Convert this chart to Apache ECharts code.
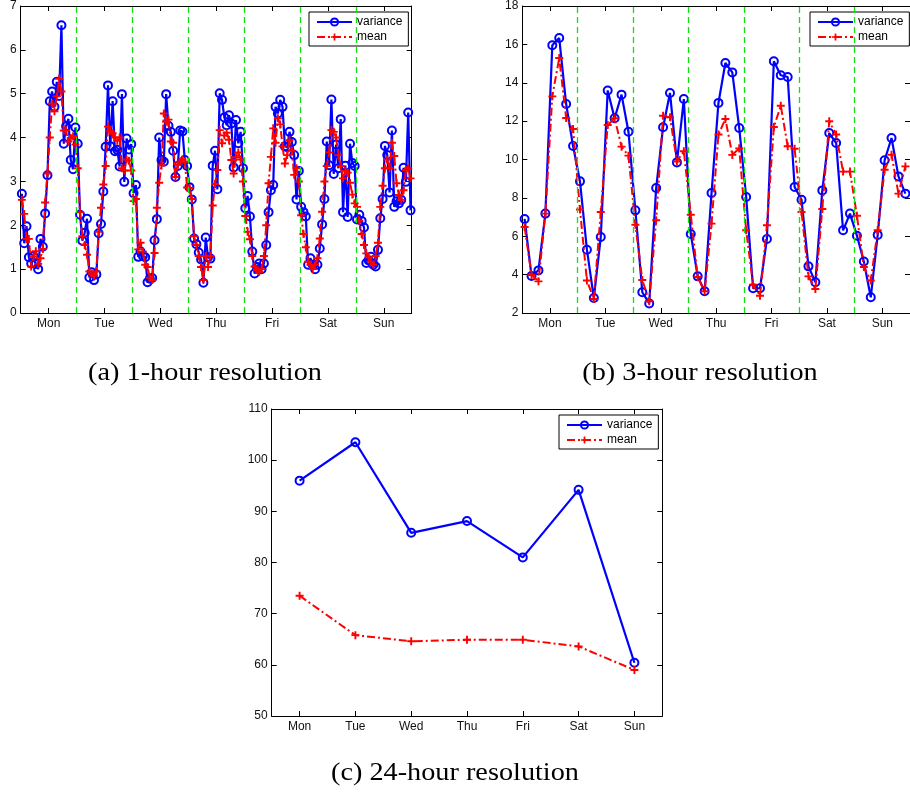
<!DOCTYPE html>
<html>
<head>
<meta charset="utf-8">
<script src="https://cdn.jsdelivr.net/npm/echarts@6/dist/echarts.min.js"></script>
<style>
  html, body { margin: 0; padding: 0; background: #fff; }
  #chart { width: 910px; height: 793px; }
</style>
</head>
<body>
<div id="chart"></div>
<script>
// Weekly traffic statistics at three time resolutions.
const days = ['Mon', 'Tue', 'Wed', 'Thu', 'Fri', 'Sat', 'Sun'];

// (a) one value per hour, Monday 00:00 to Sunday 23:00
const hourlyVariance = [
  2.72, 1.59, 1.98, 1.27, 1.13, 1.30, 1.12, 1.00, 1.69, 1.51, 2.27, 3.14, 4.83, 5.05, 4.70, 5.27, 4.95, 6.56, 3.86, 4.26, 4.43, 3.49, 3.28, 4.23,
  3.86, 2.24, 1.65, 1.83, 2.15, 0.81, 0.93, 0.75, 0.88, 1.82, 2.03, 2.77, 3.79, 5.19, 3.80, 4.83, 3.69, 3.72, 3.34, 4.99, 2.99, 3.98, 3.73, 3.85,
  2.73, 2.92, 1.28, 1.40, 1.30, 1.27, 0.70, 0.78, 0.80, 1.66, 2.14, 4.00, 3.49, 3.45, 4.99, 4.27, 4.13, 3.70, 3.10, 3.35, 4.16, 4.14, 3.49, 3.35,
  2.87, 2.59, 1.70, 1.57, 1.38, 1.22, 0.69, 1.72, 1.27, 1.24, 3.36, 3.70, 2.82, 5.01, 4.86, 4.46, 4.28, 4.51, 4.32, 3.32, 4.40, 3.87, 4.13, 3.30,
  2.39, 2.67, 2.20, 1.40, 0.90, 1.05, 1.13, 1.00, 1.13, 1.55, 2.30, 2.80, 2.92, 4.70, 4.55, 4.86, 4.70, 3.80, 3.78, 4.13, 3.90, 3.60, 2.59, 3.24,
  2.42, 2.30, 2.20, 1.10, 1.25, 1.10, 1.00, 1.10, 1.47, 2.02, 2.60, 3.91, 3.37, 4.87, 3.17, 3.84, 3.30, 4.42, 2.30, 3.36, 2.19, 3.86, 3.42, 3.35,
  2.13, 2.24, 2.10, 1.95, 1.14, 1.20, 1.28, 1.10, 1.06, 1.44, 2.16, 2.60, 3.81, 3.60, 2.75, 4.16, 2.42, 2.55, 2.50, 2.58, 3.31, 2.99, 4.57, 2.34
];
const hourlyMean = [
  2.58, 2.26, 1.69, 1.69, 1.06, 1.29, 1.41, 1.12, 1.25, 1.46, 2.52, 3.18, 4.00, 4.77, 4.60, 4.94, 5.34, 5.05, 4.16, 4.16, 3.91, 3.99, 4.03, 3.84,
  3.30, 2.30, 1.75, 1.55, 1.33, 0.95, 0.90, 0.85, 0.95, 1.85, 2.40, 2.93, 3.35, 4.25, 4.15, 4.10, 4.00, 3.93, 4.00, 3.30, 3.25, 3.50, 3.47, 3.25,
  2.55, 2.60, 1.45, 1.60, 1.40, 1.10, 1.05, 0.80, 0.75, 1.37, 2.40, 2.97, 3.37, 4.55, 4.36, 4.41, 3.91, 3.88, 3.10, 3.38, 3.45, 3.50, 3.45, 2.86,
  2.85, 2.60, 1.75, 1.55, 1.30, 1.05, 0.75, 1.30, 1.05, 1.30, 2.45, 2.94, 3.26, 4.17, 3.87, 4.05, 4.11, 3.95, 3.49, 3.18, 3.55, 3.66, 3.50, 3.00,
  2.21, 1.85, 1.68, 1.30, 1.06, 0.98, 0.94, 1.00, 1.30, 2.00, 2.96, 3.56, 4.21, 3.88, 4.44, 4.30, 3.80, 3.41, 3.60, 3.94, 3.70, 3.15, 3.30, 3.00,
  2.23, 1.80, 1.50, 1.17, 1.10, 1.00, 1.10, 1.25, 1.70, 2.31, 3.00, 3.35, 3.66, 4.17, 4.13, 4.00, 3.60, 3.35, 3.07, 3.24, 3.20, 2.97, 2.70, 2.50,
  2.42, 2.10, 1.80, 1.55, 1.36, 1.27, 1.17, 1.10, 1.30, 1.60, 2.42, 2.90, 3.30, 3.50, 3.30, 3.88, 3.58, 2.96, 2.69, 2.58, 2.80, 3.26, 3.30, 3.07
];

// (b) one value per 3-hour slot
const threeHourVariance = [
  6.90, 3.93, 4.22, 7.18, 15.95, 16.33, 12.89, 10.70,
  8.86, 5.30, 2.78, 5.96, 13.60, 12.15, 13.38, 11.45,
  7.35, 3.08, 2.50, 8.51, 11.68, 13.47, 9.85, 13.15,
  6.12, 3.91, 3.13, 8.25, 12.95, 15.03, 14.54, 11.64,
  8.05, 3.29, 3.29, 5.86, 15.12, 14.39, 14.30, 8.57,
  7.90, 4.43, 3.60, 8.39, 11.38, 10.86, 6.31, 7.18,
  6.03, 4.68, 2.82, 6.07, 9.96, 11.12, 9.12, 8.22
];
const threeHourMean = [
  6.48, 3.98, 3.65, 7.18, 13.29, 15.29, 12.16, 11.59,
  7.39, 3.69, 2.73, 7.26, 11.80, 12.15, 10.67, 10.20,
  6.60, 3.72, 2.61, 6.83, 12.28, 12.20, 9.90, 10.43,
  7.12, 3.88, 3.13, 6.66, 11.30, 12.11, 10.24, 10.58,
  6.31, 3.48, 2.90, 6.57, 11.69, 12.80, 10.69, 10.56,
  7.26, 3.91, 3.25, 7.42, 11.99, 11.30, 9.37, 9.37,
  7.07, 4.40, 3.69, 6.31, 9.47, 10.25, 8.22, 9.64
];

// (c) one value per day
const dailyVariance = [96.0, 103.5, 85.8, 88.1, 81.0, 94.2, 60.4];
const dailyMean = [73.5, 65.8, 64.6, 64.9, 64.9, 63.6, 59.0];

const captions = ['(a) 1-hour resolution', '(b) 3-hour resolution', '(c) 24-hour resolution'];

// hour positions: day labels sit mid-day, dashed separators at midnight
const dayCenters = days.map((d, k) => 24 * k + 12);
const midnights = [24, 48, 72, 96, 120, 144];

const TICK_FONT = '"Liberation Sans", Arial, Helvetica, sans-serif';
const BLUE = '#0000ff';
const RED = '#ff0000';
const GREEN = '#12e012';
const PLUS = 'path://M3.8,0H6.2V3.8H10V6.2H6.2V10H3.8V6.2H0V3.8H3.8Z';

const axisLineStyle = { show: true, onZero: false, lineStyle: { color: '#000', width: 1 } };
const tickStyle = { show: true, inside: true, length: 5, lineStyle: { color: '#000', width: 1 } };
const labelStyle = { color: '#111', fontSize: 12, fontFamily: TICK_FONT };

function hourAxis(gridIndex, position) {
  const labelled = position === 'bottom';
  return {
    type: 'value', gridIndex, position, min: 0, max: 168,
    axisLine: axisLineStyle,
    axisTick: Object.assign({}, tickStyle, { customValues: dayCenters }),
    axisLabel: Object.assign({}, labelStyle, {
      show: labelled, margin: 5,
      customValues: dayCenters,
      formatter: v => days[Math.round((v - 12) / 24)]
    }),
    splitLine: { show: false }
  };
}
function valueYAxis(gridIndex, position, min, max, interval) {
  const labelled = position === 'left';
  return {
    type: 'value', gridIndex, position, min, max, interval,
    axisLine: axisLineStyle,
    axisTick: tickStyle,
    axisLabel: Object.assign({}, labelStyle, { show: labelled, margin: 4 }),
    splitLine: { show: false }
  };
}
function dayAxis(gridIndex, position) {
  return {
    type: 'category', gridIndex, position, data: days, boundaryGap: true,
    axisLine: axisLineStyle,
    axisTick: Object.assign({}, tickStyle, { alignWithLabel: true }),
    axisLabel: Object.assign({}, labelStyle, { show: position === 'bottom', margin: 5 }),
    splitLine: { show: false }
  };
}
function varianceSeries(xi, yi, data, size) {
  return {
    name: 'variance', type: 'line', xAxisIndex: xi, yAxisIndex: yi, data,
    symbol: 'circle', symbolSize: size, showAllSymbol: true,
    lineStyle: { color: BLUE, width: 2.2 },
    itemStyle: { color: 'rgba(255,255,255,0)', borderColor: BLUE, borderWidth: 2 },
    emphasis: { disabled: true }, z: 3
  };
}
function meanSeries(xi, yi, data) {
  return {
    name: 'mean', type: 'line', xAxisIndex: xi, yAxisIndex: yi, data,
    symbol: PLUS, symbolSize: 8, showAllSymbol: true,
    lineStyle: { color: RED, width: 2, type: [8, 3, 2, 3] },
    itemStyle: { color: RED },
    emphasis: { disabled: true }, z: 4
  };
}
function separators(xi, yi) {
  return {
    type: 'line', xAxisIndex: xi, yAxisIndex: yi, data: [], silent: true, z: 1,
    markLine: {
      silent: true, symbol: ['none', 'none'], animation: false,
      label: { show: false },
      lineStyle: { color: GREEN, width: 1.3, type: [6, 4] },
      data: midnights.map(h => ({ xAxis: h }))
    }
  };
}
function legendBox(left, top) {
  return {
    data: ['variance', 'mean'], left, top, orient: 'vertical',
    backgroundColor: '#fff', borderColor: '#000', borderWidth: 1,
    padding: [4, 6, 3, 7], itemGap: 3, itemWidth: 35, itemHeight: 9,
    selectedMode: false,
    textStyle: { color: '#000', fontSize: 12, fontFamily: TICK_FONT }
  };
}
function caption(text, x, y) {
  return {
    type: 'text', silent: true, x, y, scaleX: 1.13,
    style: {
      x: 0, y: 0, text, fill: '#000', textAlign: 'center', textVerticalAlign: 'middle', verticalAlign: 'middle',
      font: '25px "Liberation Serif", "DejaVu Serif", serif'
    }
  };
}

const option = {
  animation: false,
  backgroundColor: '#fff',
  grid: [
    { left: 20.7, top: 6, width: 391, height: 307 },
    { left: 522.3, top: 6, width: 390, height: 307 },
    { left: 271.7, top: 409, width: 390.6, height: 307 }
  ],
  xAxis: [
    hourAxis(0, 'bottom'), hourAxis(0, 'top'),
    hourAxis(1, 'bottom'), hourAxis(1, 'top'),
    dayAxis(2, 'bottom'), dayAxis(2, 'top')
  ],
  yAxis: [
    valueYAxis(0, 'left', 0, 7, 1), valueYAxis(0, 'right', 0, 7, 1),
    valueYAxis(1, 'left', 2, 18, 2), valueYAxis(1, 'right', 2, 18, 2),
    valueYAxis(2, 'left', 50, 110, 10), valueYAxis(2, 'right', 50, 110, 10)
  ],
  legend: [legendBox(309, 12), legendBox(810, 12), legendBox(559, 415)],
  series: [
    separators(0, 0),
    varianceSeries(0, 0, hourlyVariance.map((v, i) => [i + 0.5, v]), 8),
    meanSeries(0, 0, hourlyMean.map((v, i) => [i + 0.5, v])),
    separators(2, 2),
    varianceSeries(2, 2, threeHourVariance.map((v, i) => [3 * i + 1, v]), 8),
    meanSeries(2, 2, threeHourMean.map((v, i) => [3 * i + 1, v])),
    varianceSeries(4, 4, dailyVariance, 8),
    meanSeries(4, 4, dailyMean)
  ],
  graphic: [
    caption(captions[0], 205, 373),
    caption(captions[1], 700, 373),
    caption(captions[2], 455, 773)
  ]
};

const chart = echarts.init(document.getElementById('chart'), null, { renderer: 'canvas' });
chart.setOption(option);
</script>
</body>
</html>
